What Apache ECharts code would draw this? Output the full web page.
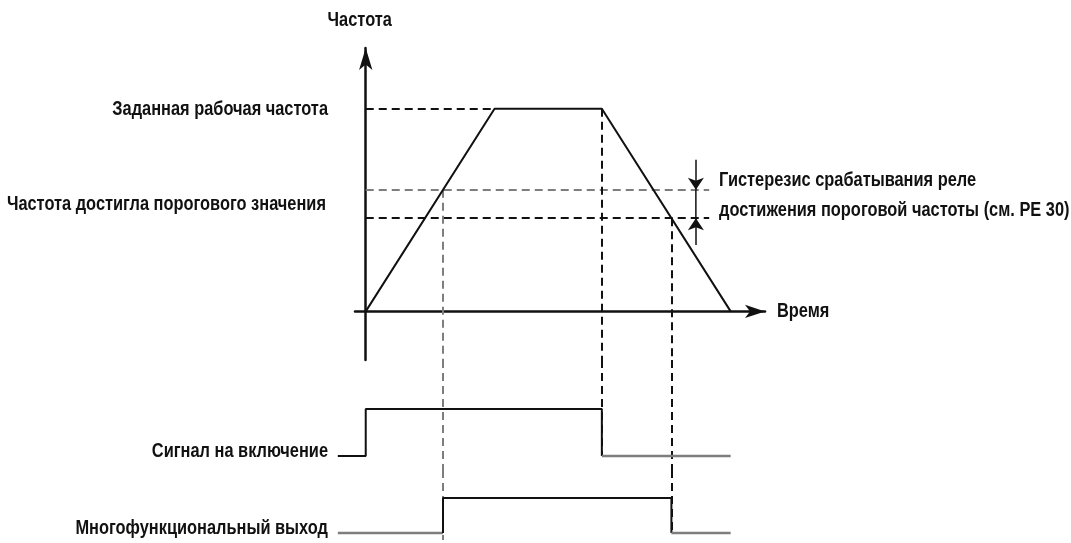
<!DOCTYPE html>
<html>
<head>
<meta charset="utf-8">
<script src="https://cdn.jsdelivr.net/npm/echarts@6/dist/echarts.min.js"></script>
<style>
  html, body { margin: 0; background: #fff; }
  #chart { width: 1071px; height: 543px; }
</style>
</head>
<body>
<div id="chart"></div>
<script>
// frequency profile (time units, Hz)
const rampTime = [0, 3, 5.5, 8.5];
const rampFreq = [0, 50, 50, 0];
const setFreq = 50;
const thresholdHigh = 30;
const thresholdLow = 23;
const thresholdEnd = 8.0;
const crossUpTime = 1.8;    // ramp crosses thresholdHigh
const crossDownTime = 7.12; // ramp crosses thresholdLow
const hystTime = 7.69;
const hystArrowFrom = [37.4, 16.4];

// digital signals (0 = off, 1 = on)
const runTime = [-0.65, 0, 0, 5.5, 5.5, 8.5];
const runLevel = [0, 0, 1, 1, 0, 0];
const outTime = [-0.65, 1.8, 1.8, 7.12, 7.12, 8.5];
const outLevel = [0, 0, 1, 1, 0, 0];

// texts
const yTitle = 'Частота';
const xTitle = 'Время';
const setLabel = 'Заданная рабочая частота';
const thresholdLabel = 'Частота достигла порогового значения';
const hystLabel = ['Гистерезис срабатывания реле', 'достижения пороговой частоты (см. PE 30)'];
const runLabel = 'Сигнал на включение';
const outLabel = 'Многофункциональный выход';

// condensed look: regular sans squeezed horizontally
const FONT = "bold 21px 'Liberation Sans', Arial, sans-serif";
const SQUEEZE = 0.78;
const BLACK = '#111';
const GRAY = '#7e7e7e';

// time axis: frequency plot starts a bit left of t = 0,
// signal plots start further left so the "off" lead-in fits
const X_MAX = 9.3;
const X_MIN_FREQ = -0.25;
const X_MIN_SIG = -1;
const PX_PER_T = 410 / (X_MAX - X_MIN_FREQ);
const RIGHT = 306;
const LEFT_FREQ = 355;
const LEFT_SIG = LEFT_FREQ - (X_MIN_FREQ - X_MIN_SIG) * PX_PER_T;

function pts(xs, ys, from, to) {
  const out = [];
  for (let i = from; i <= to; i++) out.push([xs[i], ys[i]]);
  return out;
}

function solid(data, color, xi, yi, width) {
  return {
    type: 'line', data: data, xAxisIndex: xi, yAxisIndex: yi,
    symbol: 'none', clip: false, silent: true, animation: false,
    lineStyle: { color: color, width: width || 2 }
  };
}

function dashed(coords, color, xi, yi) {
  return {
    type: 'lines', coordinateSystem: 'cartesian2d', xAxisIndex: xi, yAxisIndex: yi,
    silent: true, animation: false, clip: false,
    lineStyle: { color: color, width: 2, type: [8, 5], opacity: 1 },
    data: coords.map(c => ({ coords: c }))
  };
}

const hiddenX = (gi) => ({
  type: 'value', gridIndex: gi, min: X_MIN_SIG, max: X_MAX, show: false
});

const chart = echarts.init(document.getElementById('chart'));

chart.setOption({
  animation: false,
  grid: [
    { left: LEFT_FREQ, right: RIGHT, top: 48, height: 312 },
    { left: LEFT_SIG, right: RIGHT, top: 360, height: 110 },
    { left: LEFT_SIG, right: RIGHT, top: 470, height: 73 }
  ],
  xAxis: [
    {
      type: 'value', gridIndex: 0, min: X_MIN_FREQ, max: X_MAX,
      axisLine: { onZero: true, symbol: ['none', 'arrow'], symbolSize: [10, 20], lineStyle: { color: BLACK, width: 2.5 } },
      axisTick: { show: false }, axisLabel: { show: false }, splitLine: { show: false }
    },
    hiddenX(1),
    hiddenX(2)
  ],
  yAxis: [
    {
      type: 'value', gridIndex: 0, min: -12, max: 65,
      axisLine: { show: true, onZero: true, symbol: ['none', 'arrow'], symbolSize: [10, 22], lineStyle: { color: BLACK, width: 2.5 } },
      axisTick: { show: false }, axisLabel: { show: false }, splitLine: { show: false }
    },
    { type: 'value', gridIndex: 1, min: -0.3, max: 2.04, show: false },
    { type: 'value', gridIndex: 2, min: -0.286, max: 1.8, show: false }
  ],
  series: [
    // reference levels
    dashed([[[0, setFreq], [rampTime[1], setFreq]]], BLACK, 0, 0),
    dashed([[[0, thresholdHigh], [thresholdEnd, thresholdHigh]]], GRAY, 0, 0),
    dashed([[[0, thresholdLow], [thresholdEnd, thresholdLow]]], BLACK, 0, 0),
    // vertical guides, frequency grid
    dashed([[[crossUpTime, thresholdHigh], [crossUpTime, -12]]], GRAY, 0, 0),
    dashed([
      [[rampTime[2], setFreq], [rampTime[2], -12]],
      [[crossDownTime, thresholdLow], [crossDownTime, -12]]
    ], BLACK, 0, 0),
    // vertical guides, run signal grid
    dashed([[[crossUpTime, 2.04], [crossUpTime, -0.3]]], GRAY, 1, 1),
    dashed([
      [[rampTime[2], 2.04], [rampTime[2], 0]],
      [[crossDownTime, 2.04], [crossDownTime, -0.3]]
    ], BLACK, 1, 1),
    // vertical guides, output grid
    dashed([[[crossUpTime, 1.8], [crossUpTime, -0.2]]], GRAY, 2, 2),
    dashed([[[crossDownTime, 1.8], [crossDownTime, 0]]], BLACK, 2, 2),
    // frequency ramp
    solid(pts(rampTime, rampFreq, 0, rampTime.length - 1), BLACK, 0, 0),
    // hysteresis marker
    solid([[hystTime, thresholdHigh], [hystTime, thresholdLow]], BLACK, 0, 0, 1.5),
    {
      type: 'lines', coordinateSystem: 'cartesian2d', xAxisIndex: 0, yAxisIndex: 0,
      silent: true, animation: false,
      symbol: ['none', 'arrow'], symbolSize: 12,
      lineStyle: { color: BLACK, width: 1.5, opacity: 1 },
      data: [
        { coords: [[hystTime, hystArrowFrom[0]], [hystTime, thresholdHigh]] },
        { coords: [[hystTime, hystArrowFrom[1]], [hystTime, thresholdLow]] }
      ]
    },
    // run signal
    solid(pts(runTime, runLevel, 0, 4), BLACK, 1, 1),
    solid(pts(runTime, runLevel, 4, 5), GRAY, 1, 1, 2.5),
    // multifunction output
    solid(pts(outTime, outLevel, 0, 1), GRAY, 2, 2, 2.5),
    solid(pts(outTime, outLevel, 1, 4), BLACK, 2, 2),
    solid(pts(outTime, outLevel, 4, 5), GRAY, 2, 2, 2.5)
  ]
});

// text placed against the data positions
function text(str, x, y, align) {
  return {
    type: 'text', silent: true, x: x, y: y, scaleX: SQUEEZE,
    style: {
      text: str, x: 0, y: 0, align: align || 'right', verticalAlign: 'middle',
      font: FONT, fill: BLACK
    }
  };
}

const yPx = (v, gi) => chart.convertToPixel({ gridIndex: gi }, [0, v])[1];
const xPx = (t) => chart.convertToPixel({ gridIndex: 0 }, [t, 0])[0];

chart.setOption({
  graphic: [
    text(yTitle, xPx(0) - 6, 20, 'center'),
    text(xTitle, 777, yPx(0, 0), 'left'),
    text(setLabel, 328, yPx(setFreq, 0)),
    text(thresholdLabel, 326, (yPx(thresholdHigh, 0) + yPx(thresholdLow, 0)) / 2),
    text(hystLabel[0], 719, yPx(thresholdHigh, 0) - 10, 'left'),
    text(hystLabel[1], 719, yPx(thresholdLow, 0) - 8, 'left'),
    text(runLabel, 328, yPx(0, 1) - 5),
    text(outLabel, 328, yPx(0, 2) - 5)
  ]
});
</script>
</body>
</html>
